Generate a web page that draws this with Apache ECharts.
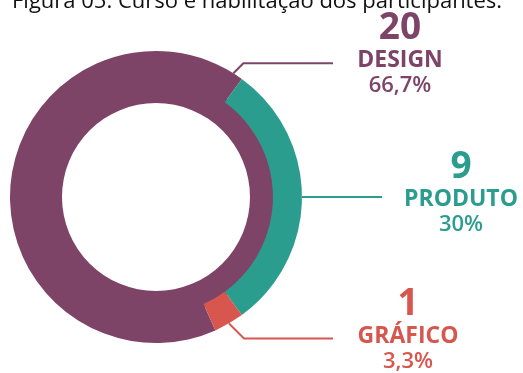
<!DOCTYPE html>
<html>
<head>
<meta charset="utf-8">
<script src="https://cdn.jsdelivr.net/npm/echarts@6/dist/echarts.min.js"></script>
<style>
html,body{margin:0;padding:0;background:#fff;}
#main{width:523px;height:373px;}
</style>
</head>
<body>
<div id="main"></div>
<script>
// Data
var titleText = 'Figura 05: Curso e habilitação dos participantes.';
var categories = ['DESIGN', 'PRODUTO', 'GRÁFICO'];
var counts = [20, 9, 1];
var pctLabels = ['66,7%', '30%', '3,3%'];

// Styling
var colors = ['#7e4468', '#2b9d8e', '#d7564e'];
var CX = 156, CY = 197, R_IN = 94, R_MID = 117, R_OUT = 146;
var labelPos = [[400, 54], [461, 193], [408, 330]];
var lineEndX = [333, 382, 333];
var leaderAngleDeg = [32, 90, 150]; // clockwise from 12 o'clock

var chart = echarts.init(document.getElementById('main'), null, {renderer: 'canvas'});

function ptOnRing(deg, r) {
  var a = deg * Math.PI / 180;
  return [CX + r * Math.sin(a), CY - r * Math.cos(a)];
}

var total = counts.reduce(function (a, b) { return a + b; }, 0);

var outerData = categories.map(function (c, i) {
  return {
    name: c, value: counts[i],
    itemStyle: {color: colors[i]},
    label: {
      rich: {
        n: {color: colors[i]}, c: {color: colors[i]}, p: {color: colors[i]}
      }
    },
    labelLine: {lineStyle: {color: colors[i]}}
  };
});

var option = {
  backgroundColor: '#ffffff',
  animation: false,
  title: {
    text: titleText,
    left: 7,
    top: -14,
    textStyle: {fontFamily: 'Open Sans', fontWeight: 'normal', fontSize: 22, color: '#111'}
  },
  series: [
    {
      type: 'pie',
      silent: true,
      center: [CX, CY],
      radius: [R_IN, R_MID + 4],
      startAngle: 90,
      itemStyle: {borderWidth: 0},
      label: {show: false},
      labelLine: {show: false},
      data: [{name: 'total', value: total, itemStyle: {color: colors[0]}}]
    },
    {
      type: 'pie',
      silent: true,
      center: [CX, CY],
      radius: [R_MID, R_OUT],
      startAngle: -66,
      avoidLabelOverlap: false,
      itemStyle: {borderWidth: 0},
      label: {
        show: true,
        position: 'outside',
        align: 'center',
        fontFamily: 'Open Sans',
        formatter: function (p) {
          return '{n|' + p.value + '}\n{c|' + p.name + '}\n{p|' + pctLabels[p.dataIndex] + '}';
        },
        rich: {
          n: {fontFamily: 'Open Sans', fontSize: 37, fontWeight: 'bold', lineHeight: 38, align: 'center'},
          c: {fontFamily: 'Open Sans', fontSize: 23, fontWeight: 'bold', lineHeight: 26, align: 'center'},
          p: {fontFamily: 'Open Sans', fontSize: 22, fontWeight: 600, lineHeight: 26, align: 'center'}
        }
      },
      labelLine: {show: true, lineStyle: {width: 2}},
      labelLayout: function (params) {
        var i = params.dataIndex;
        var s = ptOnRing(leaderAngleDeg[i], R_OUT);
        var pts;
        if (i === 1) {
          pts = [s, [lineEndX[i] - 40, s[1]], [lineEndX[i], s[1]]];
        } else {
          var dy = i === 0 ? -10 : 15;
          var m = [s[0] + Math.abs(dy), s[1] + dy];
          pts = [s, m, [lineEndX[i], m[1]]];
        }
        return {
          x: labelPos[i][0],
          y: labelPos[i][1],
          align: 'center',
          verticalAlign: 'middle',
          labelLinePoints: pts
        };
      },
      data: outerData
    }
  ]
};
chart.setOption(option);
</script>
</body>
</html>
